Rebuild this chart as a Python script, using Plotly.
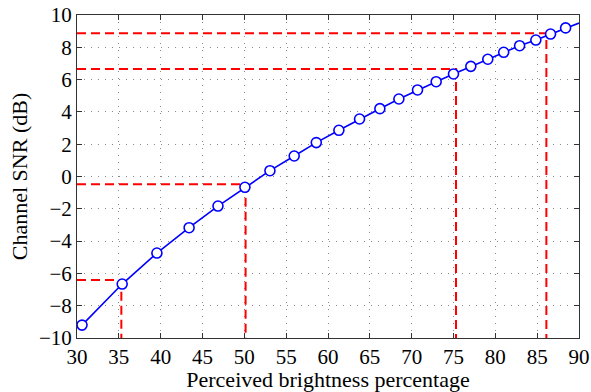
import plotly.graph_objects as go

brightness = [30.6, 35.4, 39.55, 43.4, 46.85, 50.07, 53.06, 55.96, 58.6, 61.3, 63.77,
              66.2, 68.47, 70.7, 72.93, 75.0, 77.07, 79.1, 81.0, 82.9, 84.84, 86.6, 88.4]
snr = [-9.2, -6.66, -4.74, -3.17, -1.83, -0.67, 0.36, 1.27, 2.1, 2.86, 3.56,
       4.2, 4.8, 5.36, 5.87, 6.35, 6.82, 7.26, 7.69, 8.1, 8.45, 8.82, 9.2]
line_end_x = 90
line_end_y = 9.5

thr_x = [35.3, 50.15, 75.3, 86.1]
thr_y = [-6.41, -0.48, 6.66, 8.87]

x_ticks = list(range(30, 91, 5))
y_ticks = list(range(-10, 11, 2))

FONT = "Times New Roman, Liberation Serif, serif"

fig = go.Figure()

for tx, ty in zip(thr_x, thr_y):
    fig.add_trace(go.Scatter(x=[x_ticks[0], tx, tx], y=[ty, ty, y_ticks[0]], mode="lines",
                             line=dict(color="#ff0000", width=2, dash="9px,5px"),
                             showlegend=False, hoverinfo="skip"))

fig.add_trace(go.Scatter(x=brightness + [line_end_x], y=snr + [line_end_y], mode="lines",
                         line=dict(color="#0000ff", width=1.6), showlegend=False))
fig.add_trace(go.Scatter(x=brightness, y=snr, mode="markers",
                         marker=dict(symbol="circle", size=10, color="white",
                                     line=dict(color="#0000ff", width=1.6)),
                         showlegend=False))

axis_common = dict(showline=True, linecolor="#333333", linewidth=1, mirror="ticks",
                   ticks="inside", ticklen=5, tickcolor="#333333",
                   showgrid=True, gridcolor="#8a8a8a", griddash="1px,6px", gridwidth=1,
                   zeroline=False, automargin=False,
                   tickfont=dict(family=FONT, size=21, color="black"))

fig.update_xaxes(range=[30, 90], tickvals=x_ticks,
                 title=dict(text="Perceived brightness percentage", standoff=0,
                            font=dict(family=FONT, size=22, color="black")),
                 **axis_common)
fig.update_yaxes(range=[-10, 10], tickvals=y_ticks,
                 title=dict(text="Channel SNR (dB)", standoff=5,
                            font=dict(family=FONT, size=22, color="black")),
                 **axis_common)

fig.update_layout(width=591, height=392, margin=dict(l=77, r=12, t=15, b=54),
                  plot_bgcolor="white", paper_bgcolor="white",
                  font=dict(family=FONT))

fig.write_html("out.html")
